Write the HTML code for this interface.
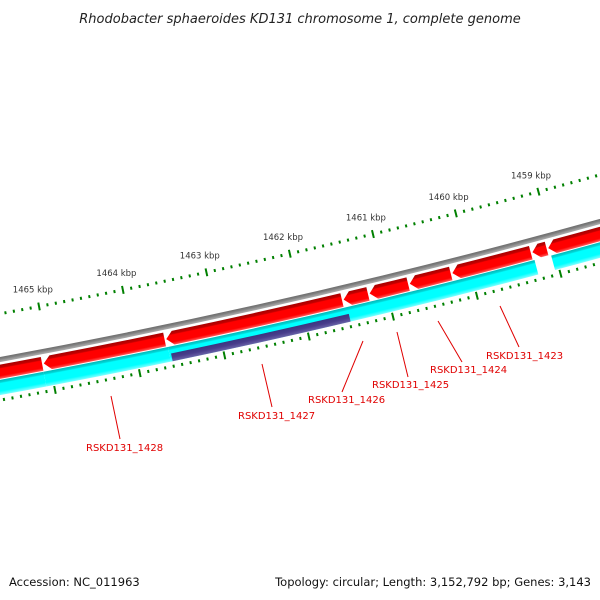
<!DOCTYPE html>
<html><head><meta charset="utf-8">
<style>
html,body{margin:0;padding:0;background:#fff;}
svg{display:block;font-family:"DejaVu Sans","Liberation Sans",sans-serif;}
</style></head>
<body>
<svg id="map" xmlns="http://www.w3.org/2000/svg" width="600" height="600" viewBox="0 0 600 600">
<defs>
<radialGradient id="gGray" gradientUnits="userSpaceOnUse" cx="-1256" cy="-6474" r="7000"></radialGradient>
<radialGradient id="gRed" gradientUnits="userSpaceOnUse" cx="-1256" cy="-6474" r="7000"></radialGradient>
<radialGradient id="gCyan" gradientUnits="userSpaceOnUse" cx="-1256" cy="-6474" r="7000"></radialGradient>
<radialGradient id="gPurple" gradientUnits="userSpaceOnUse" cx="-1256" cy="-6474" r="7000"></radialGradient>
</defs>
<rect width="600" height="600" fill="#fff"/>
<text x="300" y="23" text-anchor="middle" font-size="13" font-style="italic" fill="#222">Rhodobacter sphaeroides KD131 chromosome 1, complete genome</text>
<g id="rulers"></g>
<g id="features"></g>
<g font-size="10" fill="#e00000">
  <line x1="500" y1="306" x2="519" y2="347" stroke="#e00000" stroke-width="1"/>
  <text x="486" y="359">RSKD131_1423</text>
  <line x1="438" y1="321" x2="462" y2="362" stroke="#e00000" stroke-width="1"/>
  <text x="430" y="373">RSKD131_1424</text>
  <line x1="397" y1="332" x2="408" y2="377" stroke="#e00000" stroke-width="1"/>
  <text x="372" y="388">RSKD131_1425</text>
  <line x1="363" y1="341" x2="342" y2="392" stroke="#e00000" stroke-width="1"/>
  <text x="308" y="403">RSKD131_1426</text>
  <line x1="262" y1="364" x2="272" y2="407" stroke="#e00000" stroke-width="1"/>
  <text x="238" y="419">RSKD131_1427</text>
  <line x1="111" y1="396" x2="120" y2="439" stroke="#e00000" stroke-width="1"/>
  <text x="86" y="451">RSKD131_1428</text>
</g>
<text x="9" y="586" font-size="11.5" fill="#111">Accession: NC_011963</text>
<text x="591" y="586" text-anchor="end" font-size="11.5" fill="#111">Topology: circular; Length: 3,152,792 bp; Genes: 3,143</text>
</svg>
<script>
// Data (kbp)
const tickLabelsKbp = [1459, 1460, 1461, 1462, 1463, 1464, 1465];
const forwardStarts = [1465.09, 1463.64, 1461.53, 1461.22, 1460.74, 1460.23, 1459.27, 1459.08, 1457.5];
const forwardEnds   = [1466.80, 1465.07, 1463.62, 1461.51, 1461.20, 1460.72, 1460.21, 1459.25, 1459.06];
const cyanStarts = [1465.09, 1463.62, 1459.25, 1457.5];
const cyanEnds   = [1466.80, 1465.09, 1463.62, 1459.05];
const purpleStarts = [1461.49];
const purpleEnds   = [1463.60];
const rulerMin = 1457.5, rulerMax = 1466.8;

// Geometry
const CX = -1256, CY = -6474, R = 6948;
const NS = 'http://www.w3.org/2000/svg';
function theta(p){ return (77.06 + (p - 1462) * 0.709) * Math.PI / 180; }
function pt(p, r){ const t = theta(p); return [CX + r*Math.cos(t), CY + r*Math.sin(t)]; }
function f(v){ return v.toFixed(2); }

function setStops(id, stops){
  const g = document.getElementById(id);
  stops.forEach(s => {
    const st = document.createElementNS(NS, 'stop');
    st.setAttribute('offset', (s[0] / 7000).toFixed(7));
    st.setAttribute('stop-color', s[1]);
    g.appendChild(st);
  });
}
setStops('gGray', [[R-3,'#6a6a6a'],[R-0.5,'#808080'],[R+1,'#9a9a9a'],[R+3,'#b0b0b0']]);
setStops('gRed', [[R+5,'#a80000'],[R+8,'#c40000'],[R+9,'#ff0000'],[R+16,'#ff0000'],[R+19,'#ff5a5a']]);
setStops('gCyan', [[R+20,'#00b8b8'],[R+22.5,'#00d8d8'],[R+23.5,'#00ffff'],[R+31,'#00ffff'],[R+35,'#80ffff']]);
setStops('gPurple', [[R+27,'#3a3580'],[R+31,'#483d8b'],[R+35,'#6a64a8']]);

function band(p1, p2, r1, r2, arrow){
  const rm = (r1 + r2) / 2;
  const d = arrow ? (7 / rm) * 180 / Math.PI / 0.709 : 0;
  const pb = Math.max(p1, p2 - d);
  const a = pt(p1, r1), b = pt(pb, r1), c = pt(p2, rm), e = pt(pb, r2), g = pt(p1, r2);
  let s = 'M'+f(a[0])+','+f(a[1])+' A'+r1+','+r1+' 0 0 1 '+f(b[0])+','+f(b[1]);
  if (arrow) s += ' L'+f(c[0])+','+f(c[1]);
  s += ' L'+f(e[0])+','+f(e[1])+' A'+r2+','+r2+' 0 0 0 '+f(g[0])+','+f(g[1])+' Z';
  return s;
}

const feat = document.getElementById('features');
// backbone
const bb = document.createElementNS(NS, 'path');
bb.setAttribute('d', band(rulerMin, rulerMax, R-2.5, R+2.5, false));
bb.setAttribute('fill', 'url(#gGray)');


feat.appendChild(bb);

forwardStarts.forEach((s, i) => {
  const el = document.createElementNS(NS, 'path');
  el.setAttribute('d', band(s, forwardEnds[i], R+5, R+19, true));
  el.setAttribute('fill', 'url(#gRed)');
  
  
  feat.appendChild(el);
});
cyanStarts.forEach((s, i) => {
  const el = document.createElementNS(NS, 'path');
  el.setAttribute('d', band(s, cyanEnds[i], R+20, R+35, false));
  el.setAttribute('fill', 'url(#gCyan)');
  
  
  feat.appendChild(el);
});
purpleStarts.forEach((s, i) => {
  const el = document.createElementNS(NS, 'path');
  el.setAttribute('d', band(s, purpleEnds[i], R+27, R+35, false));
  el.setAttribute('fill', 'url(#gPurple)');
  
  
  feat.appendChild(el);
});

// rulers
const rul = document.getElementById('rulers');
function tick(p, r1, r2, w, name){
  const a = pt(p, r1), b = pt(p, r2);
  const l = document.createElementNS(NS, 'line');
  l.setAttribute('x1', f(a[0])); l.setAttribute('y1', f(a[1]));
  l.setAttribute('x2', f(b[0])); l.setAttribute('y2', f(b[1]));
  l.setAttribute('stroke', '#008000');
  l.setAttribute('stroke-width', w);
  
  
  rul.appendChild(l);
}
const kStart = Math.ceil(rulerMin * 10), kEnd = Math.floor(rulerMax * 10);
for (let k = kStart; k <= kEnd; k++){
  const p = k / 10;
  if (k % 10 === 0) continue;
  tick(p, R-46.5, R-43.5, 2, 'ruler-minor-tick');
  tick(p, R+38.5, R+41.5, 2, 'ruler-minor-tick');
}
tickLabelsKbp.forEach(p => {
  tick(p, R-49, R-41, 2, 'ruler-major-tick');
  tick(p, R+36, R+44, 2, 'ruler-major-tick');
  const c = pt(p, R-62);
  const t = document.createElementNS(NS, 'text');
  t.setAttribute('x', f(c[0] - 3));
  t.setAttribute('y', f(c[1] + 3));
  t.setAttribute('text-anchor', 'middle');
  t.setAttribute('font-size', '8.5');
  t.setAttribute('fill', '#333');
  
  
  t.textContent = p + ' kbp';
  rul.appendChild(t);
});
</script>
</body></html>
